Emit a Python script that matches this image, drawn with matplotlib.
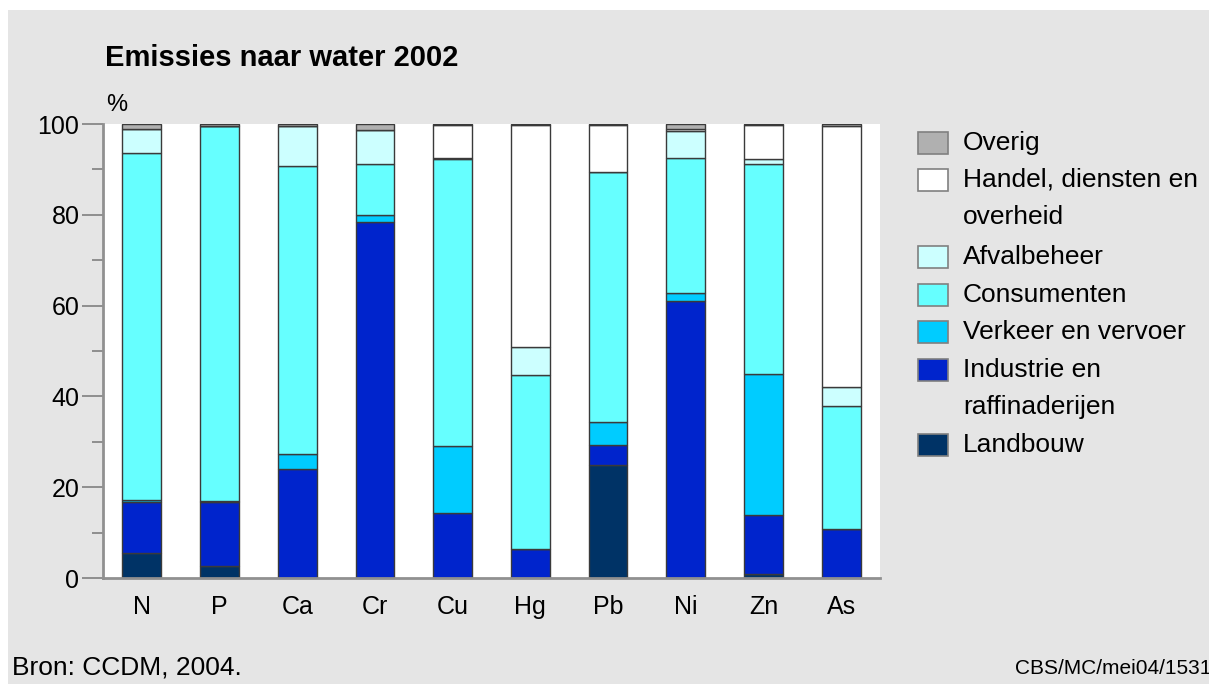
import numpy as np
import matplotlib
matplotlib.use('Agg')
import matplotlib.pyplot as plt
from matplotlib.patches import Rectangle

plt.rcParams['font.family'] = ['Liberation Sans', 'DejaVu Sans']

# data (percentages, bottom to top)
stoffen = ['N', 'P', 'Ca', 'Cr', 'Cu', 'Hg', 'Pb', 'Ni', 'Zn', 'As']
landbouw    = [5.5, 2.6, 0.0, 0.0, 0.0, 0.0, 25.0, 0.0, 0.8, 0.0]
industrie   = [11.3, 14.2, 24.0, 78.4, 14.4, 6.3, 4.2, 61.1, 13.1, 10.7]
verkeer     = [0.3, 0.2, 3.3, 1.5, 14.6, 0.1, 5.1, 1.6, 31.1, 0.1]
consumenten = [76.5, 82.6, 63.5, 11.2, 63.3, 38.3, 55.1, 29.9, 46.1, 27.1]
afvalbeheer = [5.4, 0.0, 8.8, 7.6, 0.2, 6.2, 0.1, 5.9, 1.1, 4.2]
handel      = [0.0, 0.0, 0.0, 0.0, 7.3, 48.8, 10.2, 0.3, 7.5, 57.4]
overig      = [1.0, 0.4, 0.4, 1.3, 0.2, 0.3, 0.3, 1.2, 0.3, 0.5]

series = [landbouw, industrie, verkeer, consumenten, afvalbeheer, handel, overig]
kleuren = ['#003366', '#0024cc', '#00ccff', '#66ffff', '#ccffff', '#ffffff', '#b0b0b0']
labels = ['Landbouw', 'Industrie en\nraffinaderijen', 'Verkeer en vervoer',
          'Consumenten', 'Afvalbeheer', 'Handel, diensten en\noverheid', 'Overig']

W, H = 1209, 684
fig = plt.figure(figsize=(W / 100, H / 100), dpi=100, facecolor='white')
# grey panel (white strip at top and left edge)
fig.patches.append(Rectangle((8 / W, 0), 1, 1 - 10 / H, transform=fig.transFigure,
                             facecolor='#e5e5e5', edgecolor='none', zorder=-5))

ax = fig.add_axes([103 / W, 1 - 578 / H, (880 - 103) / W, (578 - 124) / H])
ax.set_facecolor('white')

x = np.arange(len(stoffen))
bottom = np.zeros(len(stoffen))
for vals, kl in zip(series, kleuren):
    vals = np.array(vals)
    ax.bar(x, vals, 0.5, bottom=bottom, color=kl, edgecolor='#3a3a3a', linewidth=1.0)
    bottom += vals

ax.set_xlim(-0.5, len(stoffen) - 0.5)
ax.set_ylim(0, 100)
ax.set_yticks([0, 20, 40, 60, 80, 100])
ax.set_yticks([10, 30, 50, 70, 90], minor=True)
ax.set_xticks(x)
ax.set_xticklabels(stoffen)
ax.tick_params(axis='y', which='major', length=15, width=1.2, color='#808080',
               labelsize=18, pad=2)
ax.tick_params(axis='y', which='minor', length=8, width=1.2, color='#808080')
ax.tick_params(axis='x', length=0, labelsize=18, pad=12)
for s in ['top', 'right']:
    ax.spines[s].set_visible(False)
for s in ['left', 'bottom']:
    ax.spines[s].set_color('#909090')
    ax.spines[s].set_linewidth(2)

fig.text(105 / W, 1 - 58 / H, 'Emissies naar water 2002', fontsize=21,
         fontweight='bold', va='center', ha='left')
fig.text(106 / W, 1 - 105 / H, '%', fontsize=17, va='center', ha='left')

# legend, drawn by hand
leg_y = [445, 370, 331.7, 294.7, 256.7, 180, 143.3]
for yc, kl, lab in zip(leg_y, kleuren, labels):
    fig.patches.append(Rectangle((918 / W, 1 - (yc + 11) / H), 30 / W, 22 / H,
                                 transform=fig.transFigure, facecolor=kl,
                                 edgecolor='#808080', linewidth=1.2))
    regels = lab.split('\n')
    for i, r in enumerate(regels):
        fig.text(963 / W, 1 - (yc + i * 37.5) / H, r, fontsize=19,
                 va='center', ha='left')

fig.text(12 / W, 1 - 667 / H, 'Bron: CCDM, 2004.', fontsize=19, va='center', ha='left')
fig.text(1015 / W, 1 - 668 / H, 'CBS/MC/mei04/1531', fontsize=15, va='center', ha='left')

fig.savefig('out.png', dpi=100, facecolor=fig.get_facecolor())
